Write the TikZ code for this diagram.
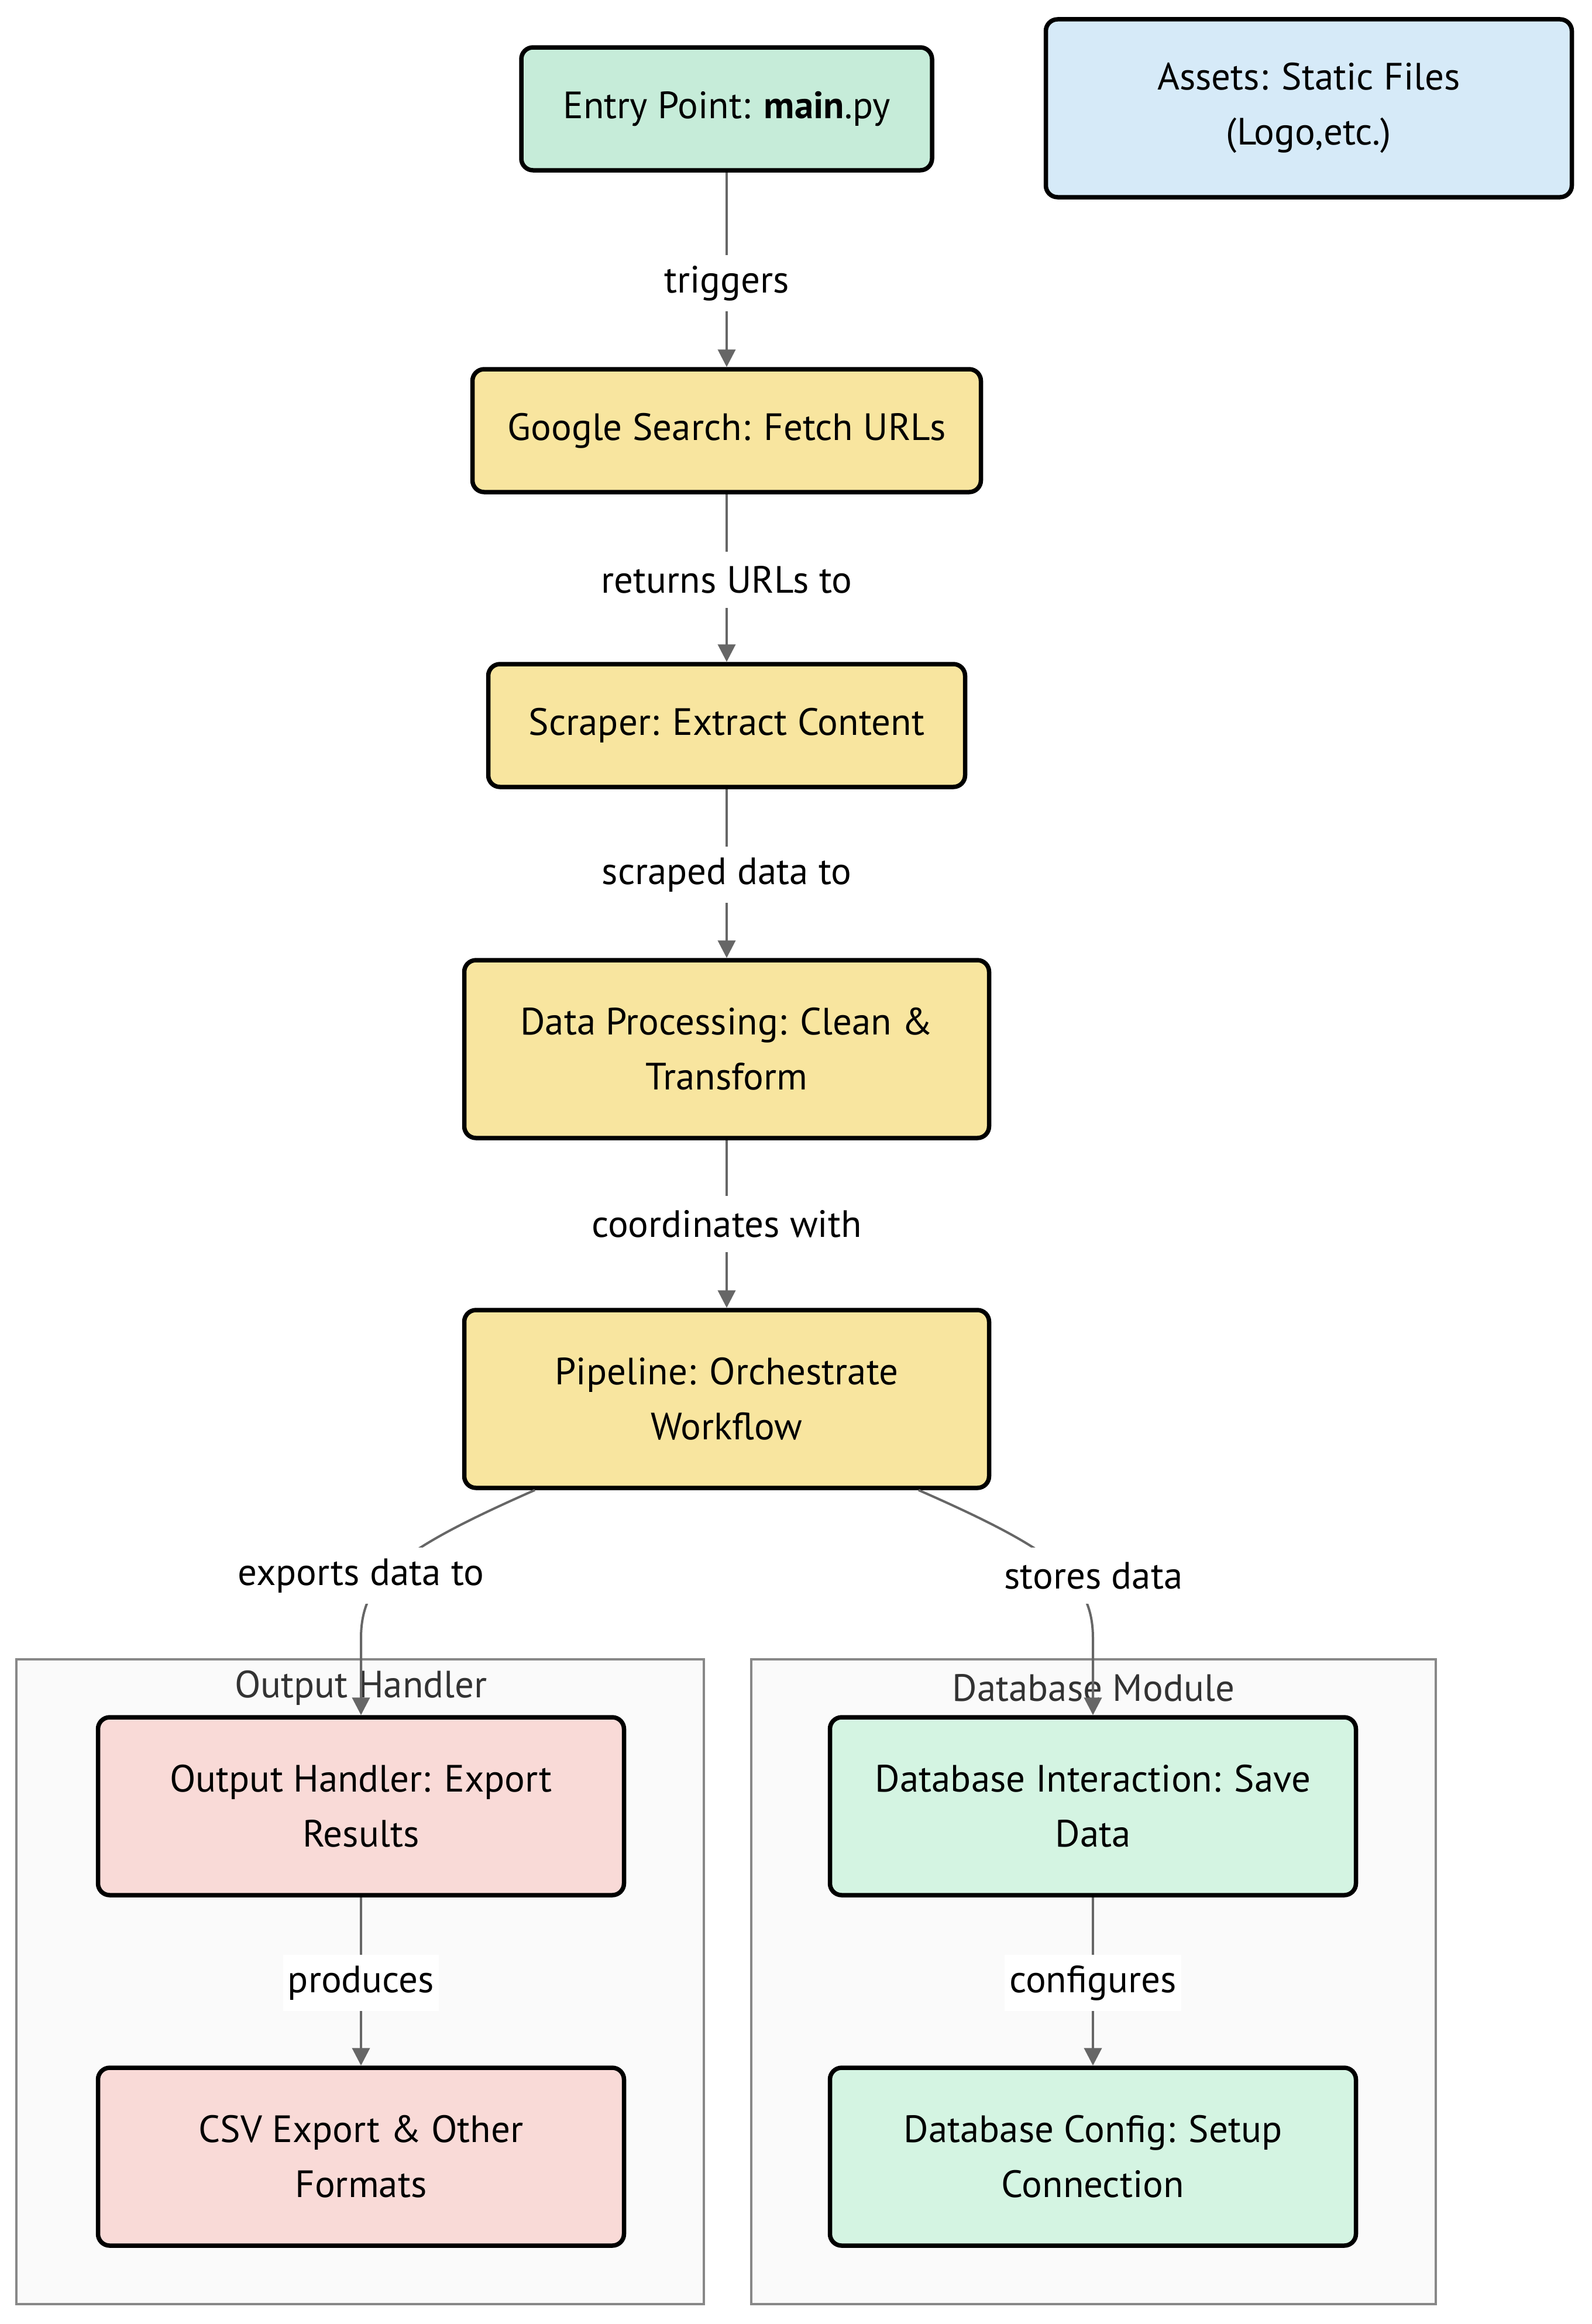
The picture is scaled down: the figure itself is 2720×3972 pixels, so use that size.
\documentclass[tikz,border=0pt]{standalone}
\usepackage{fontspec}
\setmainfont{PT Sans}
\usetikzlibrary{arrows.meta}
\definecolor{entryc}{HTML}{C6ECD9}
\definecolor{procc}{HTML}{F8E59F}
\definecolor{outc}{HTML}{F9DAD7}
\definecolor{dbc}{HTML}{D4F4E2}
\definecolor{assetc}{HTML}{D6EAF8}
\definecolor{clusterfill}{HTML}{FAFAFA}
\definecolor{clusterline}{HTML}{888888}
\definecolor{edgec}{HTML}{666666}
\definecolor{titlec}{HTML}{333333}
\tikzset{
  box/.style={draw=black, line width=7.5pt, rounded corners=20pt, align=center,
    inner sep=0pt, font=\fontsize{65}{94}\selectfont},
  cluster/.style={draw=clusterline, line width=4pt, fill=clusterfill},
  ctitle/.style={text=titlec, font=\fontsize{65}{94}\selectfont, inner sep=0pt},
  edge/.style={draw=edgec, line width=4pt, -{Triangle[length=30pt,width=30pt]}},
  elabel/.style={fill=white, inner xsep=8pt, inner ysep=0pt, minimum height=96pt,
    font=\fontsize{65}{94}\selectfont},
}
\begin{document}
\begin{tikzpicture}[x=1pt,y=-1pt]
\useasboundingbox (0,0) rectangle (2720,3972);
% clusters
\draw[cluster] (28,2836) rectangle (1203,3938);
\draw[cluster] (1284,2836) rectangle (2454,3938);
\node[ctitle] (t1) at (617,2885) {Output Handler};
\node[ctitle] (t2) at (1869,2885) {Database Module};
% nodes
\node[box, fill=entryc, minimum width=702pt, minimum height=210pt] (entry) at (1242,186) {Entry Point: \textbf{main}.py};
\node[box, fill=assetc, minimum width=899pt, minimum height=304pt] (assets) at (2237,185) {Assets: Static Files\\(Logo,etc.)};
\node[box, fill=procc, minimum width=869pt, minimum height=210pt] (google) at (1242,736) {Google Search: Fetch URLs};
\node[box, fill=procc, minimum width=815pt, minimum height=210pt] (scraper) at (1242,1240) {Scraper: Extract Content};
\node[box, fill=procc, minimum width=897pt, minimum height=304pt] (proc) at (1242,1793) {Data Processing: Clean \&\\Transform};
\node[box, fill=procc, minimum width=897pt, minimum height=304pt] (pipe) at (1242,2391) {Pipeline: Orchestrate\\Workflow};
\node[box, fill=outc, minimum width=899pt, minimum height=304pt] (outh) at (617,3087) {Output Handler: Export\\Results};
\node[box, fill=outc, minimum width=899pt, minimum height=304pt] (csv) at (617,3686) {CSV Export \& Other\\Formats};
\node[box, fill=dbc, minimum width=899pt, minimum height=304pt] (dbi) at (1868,3087) {Database Interaction: Save\\Data};
\node[box, fill=dbc, minimum width=899pt, minimum height=304pt] (dbconf) at (1868,3686) {Database Config: Setup\\Connection};
% edges
\draw[edge] (entry.south) -- (google.north);
\draw[edge] (google.south) -- (scraper.north);
\draw[edge] (scraper.south) -- (proc.north);
\draw[edge] (proc.south) -- (pipe.north);
\draw[edge] ([xshift=-328pt]pipe.south) .. controls (680,2650) and (617,2700) .. (617,2800) -- (outh.north);
\draw[edge] ([xshift=328pt]pipe.south) .. controls (1805,2650) and (1868,2700) .. (1868,2800) -- (dbi.north);
\draw[edge] (outh.south) -- (csv.north);
\draw[edge] (dbi.south) -- (dbconf.north);
% edge labels
\node[elabel] (l1) at (1242,484) {triggers};
\node[elabel] (l2) at (1242,991) {returns URLs to};
\node[elabel] (l3) at (1242,1495) {scraped data to};
\node[elabel] (l4) at (1242,2092) {coordinates with};
\node[elabel] (l5) at (617,2693) {exports data to};
\node[elabel] (l6) at (1869,2693) {stores data};
\node[elabel] (l7) at (617,3389) {produces};
\node[elabel] (l8) at (1868,3389) {configures};
\end{tikzpicture}
\end{document}
